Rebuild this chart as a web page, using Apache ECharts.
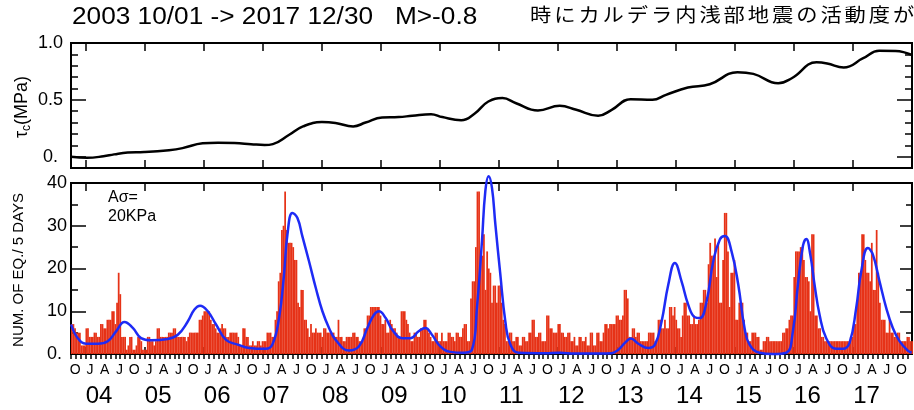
<!DOCTYPE html>
<html><head><meta charset="utf-8">
<script src="https://cdn.jsdelivr.net/npm/echarts@6/dist/echarts.min.js"></script>
<style>html,body{margin:0;padding:0;background:#fff}#c{width:914px;height:410px}</style>
</head><body><div id="c"></div>
<script>
const titleText = '2003 10/01 -> 2017 12/30   M>-0.8';
const noteText = '時にカルデラ内浅部地震の活動度が';
const amplitudeText = 'Aσ=\n20KPa';
const startYear = 2003.75, endYear = 2017.997;
const binDays = 10;

// top panel: tau_c (MPa)
const tauYears = [2003.75,2004.02,2004.30,2004.48,2004.71,2004.99,2005.41,2005.64,2005.98,2006.24,2006.52,2006.80,2007.03,2007.17,2007.44,2007.68,2008.00,2008.23,2008.53,2008.74,2009.02,2009.30,2009.53,2009.85,2010.04,2010.36,2010.59,2010.82,2011.06,2011.29,2011.66,2012.03,2012.31,2012.68,2012.91,2013.23,2013.60,2013.83,2014.20,2014.57,2015.04,2015.31,2015.73,2015.96,2016.38,2016.56,2016.84,2017.17,2017.44,2017.72,2017.997];
const tauValues = [0.0,-0.01,0.003,0.02,0.036,0.04,0.057,0.075,0.117,0.123,0.12,0.11,0.102,0.11,0.19,0.266,0.304,0.296,0.266,0.30,0.345,0.348,0.36,0.374,0.348,0.32,0.38,0.485,0.515,0.47,0.406,0.447,0.412,0.36,0.412,0.506,0.50,0.544,0.608,0.637,0.743,0.728,0.646,0.69,0.83,0.82,0.785,0.866,0.932,0.93,0.895];

// bottom panel: expected rate (blue)
const rateYears = [2003.752,2003.865,2004.006,2004.204,2004.373,2004.514,2004.656,2004.797,2004.937,2005.106,2005.389,2005.559,2005.728,2005.841,2005.936,2006.067,2006.207,2006.377,2006.575,2006.766,2007.049,2007.162,2007.274,2007.359,2007.416,2007.501,2007.586,2007.670,2007.782,2007.896,2008.009,2008.121,2008.234,2008.460,2008.629,2008.771,2008.883,2008.968,2009.081,2009.194,2009.364,2009.499,2009.640,2009.753,2009.865,2010.007,2010.177,2010.402,2010.542,2010.627,2010.712,2010.769,2010.825,2010.881,2010.939,2011.023,2011.108,2011.193,2011.333,2011.774,2012.028,2012.282,2012.705,2012.908,2013.022,2013.133,2013.235,2013.360,2013.530,2013.642,2013.755,2013.868,2013.980,2014.093,2014.207,2014.319,2014.403,2014.517,2014.630,2014.742,2014.827,2014.940,2015.054,2015.160,2015.245,2015.414,2015.640,2015.867,2015.979,2016.064,2016.148,2016.206,2016.273,2016.346,2016.431,2016.544,2016.713,2016.825,2016.939,2017.052,2017.137,2017.249,2017.333,2017.447,2017.560,2017.672,2017.786,2017.926,2017.99];
const rateValues = [6.9,3.7,2.4,2.4,3.0,5.3,7.5,6.1,3.7,3.2,3.5,4.5,7.6,10.4,11.3,10.0,6.9,3.3,2.2,1.4,1.2,2.2,8.4,18.6,27.9,33.0,31.8,27.5,21.7,15.5,10.0,6.1,3.3,0.8,1.8,6.1,9.2,10.0,8.4,5.6,3.7,3.7,5.3,6.1,4.5,1.8,0.5,0.3,1.0,10.8,26.4,38.1,41.6,38.9,30.3,18.6,7.6,2.2,0.3,0.2,0.3,0.1,0.1,0.2,1.0,2.6,3.6,2.4,1.4,2.2,7.6,16.2,21.3,17.0,11.5,8.6,8.4,12.3,21.7,26.8,27.6,24.0,16.2,6.1,2.2,0.3,0.0,0.3,5.3,16.2,25.2,26.9,23.3,16.2,9.2,3.7,1.2,1.2,2.6,10.8,19.3,24.8,23.3,17.0,10.8,6.1,3.0,0.8,0.3];

// bottom panel: observed counts (red bars), one value per 10-day step from 2003-10-01
const barValues = [
7,7,6,5,5,5,2,2,2,6, 6,4,4,4,5,5,4,4,7,7, 6,6,8,8,8,10,10,7,12,19, 14,4,4,4,1,2,4,4,1,1,
2,4,4,3,1,1,1,4,4,3, 3,2,3,6,6,4,4,4,4,4, 5,5,5,6,6,4,4,4,4,4, 4,3,4,5,5,5,5,5,5,8,
8,9,10,10,10,10,8,7,7,6, 5,5,6,7,6,6,4,4,5,5, 5,5,5,
4,2,2,6,6,4,4,2,2,3, 2,2,3,3,2,3,3,3,5,5, 5,4,4,8,10,17,19,29,30,38, 29,26,26,26,25,22,22,12,11,15,
15,8,8,6,4,7,5,5,6,5, 5,5,4,6,6,5,5,5,5,5, 4,4,8,4,4,3,3,4,4,4, 4,5,5,4,4,3,3,3,6,6,
9,9,11,11,11,11,11,11,9,7, 7,8,5,5,8,7,6,6,5,4, 4,10,10,10,
8,7,5,3,3,5,5,4,4,6, 6,8,8,6,5,4,3,3,5,5, 3,3,5,3,3,3,5,5,4,4, 3,5,5,4,4,6,7,7,3,3,
13,17,17,25,38,38,23,23,28,15, 24,20,19,12,16,16,12,16,16,12, 8,7,3,3,5,5,3,3,4,4, 2,2,4,4,3,3,5,5,8,8,
4,4,5,5,3,3,3,9,9,6, 6,5,5,5,7,7,5,5,4,4, 5,5,3,3,
4,2,2,4,4,3,3,4,2,2, 5,5,2,2,5,5,3,3,5,7, 7,6,7,7,7,7,9,9,8,8, 9,15,15,13,4,4,6,6,4,5,
5,3,3,3,3,3,5,5,5,5, 3,3,8,8,6,6,8,6,6,11, 11,9,11,8,6,6,4,9,12,12, 9,9,7,7,9,7,7,8,12,12,
15,15,12,21,26,23,23,27,18,26, 12,12,22,33,33,24,11,19,19,22, 8,8,12,12,
12,8,5,5,3,3,5,5,5,4, 4,1,1,3,3,4,4,3,3,3, 3,3,3,3,3,5,5,6,6,8, 9,9,18,24,24,24,25,25,22,18,
18,17,10,28,28,9,9,6,6,4, 4,3,3,3,3,3,3,3,3,3, 3,3,3,3,3,3,3,4,4,7, 7,12,19,19,28,28,22,19,19,17,
26,15,15,29,19,12,8,8,8,5, 5,8,5,5,4,4,5,5,3,3, 3,3,4,4,3,3
];

const tauLabelValues = [0, 0.5, 1.0];
const tauMinorValues = [-0.1, 0.1, 0.2, 0.3, 0.4, 0.6, 0.7, 0.8, 0.9];
const countLabelValues = [0, 10, 20, 30, 40];
const countMinorValues = [5, 15, 25, 35];
const yearLabels = ['04','05','06','07','08','09','10','11','12','13','14','15','16','17'];
const monthLetters = ['J','A','J','O'];

const yearTicks = yearLabels.map(s => 2000 + parseInt(s, 10));
const monthTicks = [];
for (let y = 2003; y <= 2017; y++) for (let m = 0; m < 12; m++) {
  const t = y + m / 12;
  if (t >= startYear - 1e-6 && t <= endYear) monthTicks.push(t);
}
const letterShift = 0.07;
const quarterLabelPos = [];
for (let y = 2003; y <= 2017; y++) for (let q = 0; q < 4; q++) {
  const t = y + q * 0.25;
  if (t >= startYear - 1e-6 && t <= endYear) quarterLabelPos.push(t + letterShift);
}
const barData = barValues.map((v, i) => [startYear + (i + 0.5) * binDays / 365.25, v]);
const tauData = tauYears.map((t, i) => [t, tauValues[i]]);
const rateData = rateYears.map((t, i) => [t, rateValues[i]]);

const FONT = '"Liberation Sans", Arial, sans-serif';
const tickStyle = {color: '#000', width: 1.5};

function xAx(grid, pos, tickVals, inside, len, label) {
  return {
    type: 'value', gridIndex: grid, position: pos, min: startYear, max: endYear,
    axisLine: {show: false, onZero: false}, splitLine: {show: false},
    axisTick: {show: true, customValues: tickVals, inside: inside, length: len, lineStyle: tickStyle},
    axisLabel: label || {show: false}
  };
}
function yAx(grid, pos, min, max, tickVals, len, label) {
  return {
    type: 'value', gridIndex: grid, position: pos, min: min, max: max, offset: 0,
    axisLine: {show: false, onZero: false}, splitLine: {show: false},
    axisTick: {show: true, customValues: tickVals, inside: true, length: len, lineStyle: tickStyle},
    axisLabel: label || {show: false}
  };
}

const graphics = [
  {type: 'text', x: 72, y: 18, scaleX: 1.14, style: {text: titleText, font: '23px ' + FONT, fill: '#000', verticalAlign: 'middle'}},
  {type: 'text', x: 108, y: 188, style: {text: amplitudeText, font: '16px ' + FONT, lineHeight: 19, fill: '#000', verticalAlign: 'top'}},
  {type: 'text', x: 22, y: 107, rotation: Math.PI / 2,
   style: {text: '{a|τ}{b|c}{a|(MPa)}', align: 'center', verticalAlign: 'middle',
     rich: {a: {font: '18px ' + FONT, fill: '#000', lineHeight: 22}, b: {font: '12px ' + FONT, fill: '#000', verticalAlign: 'bottom', lineHeight: 14}}}},
  {type: 'text', x: 19, y: 270, rotation: Math.PI / 2,
   style: {text: 'NUM. OF EQ./ 5 DAYS', font: '15px ' + FONT, fill: '#000', align: 'center', verticalAlign: 'middle'}}
];
Array.from(noteText).forEach((ch, k) => {
  graphics.push({type: 'text', x: 530 + k * 24.2, y: 15, scaleX: 1.12,
    style: {text: ch, font: '19px "Noto Sans CJK JP"', fill: '#000', verticalAlign: 'middle'}});
});

const chart = echarts.init(document.getElementById('c'), null, {renderer: 'canvas'});
chart.setOption({
  animation: false,
  backgroundColor: '#fff',
  grid: [
    {left: 71, top: 43, width: 841, height: 125, show: true, borderColor: '#000', borderWidth: 2, backgroundColor: 'transparent'},
    {left: 71, top: 183, width: 841, height: 171, show: true, borderColor: '#000', borderWidth: 2, backgroundColor: 'transparent'}
  ],
  xAxis: [
    xAx(0, 'bottom', yearTicks, true, 8),
    xAx(0, 'top', yearTicks, true, 8),
    xAx(1, 'bottom', monthTicks, false, 5, {
      customValues: quarterLabelPos, margin: 9, fontSize: 14, fontFamily: FONT, color: '#000',
      formatter: v => { const b = v - letterShift; const f = b - Math.floor(b + 1e-6); return monthLetters[Math.round(f * 4) % 4]; }
    }),
    xAx(1, 'bottom', yearTicks, true, 7, {
      customValues: yearTicks, margin: 30, fontSize: 24, fontFamily: FONT, color: '#000', align: 'left',
      formatter: v => yearLabels[yearTicks.indexOf(Math.round(v))]
    }),
    xAx(1, 'top', yearTicks, true, 8)
  ],
  yAxis: [
    yAx(0, 'left', -0.1, 1.0, tauLabelValues, 15, {
      customValues: tauLabelValues, margin: 8, fontSize: 18, fontFamily: FONT, color: '#000',
      formatter: v => v === 0 ? '{z|0.}' : v.toFixed(1),
      rich: {z: {fontSize: 18, fontFamily: FONT, color: '#000', padding: [0, 5, 0, 0]}}
    }),
    yAx(0, 'left', -0.1, 1.0, tauMinorValues, 7),
    yAx(0, 'right', -0.1, 1.0, tauLabelValues, 15),
    yAx(0, 'right', -0.1, 1.0, tauMinorValues, 7),
    yAx(1, 'left', 0, 40, [10, 20, 30], 15, {
      customValues: countLabelValues, margin: 24, fontSize: 18, fontFamily: FONT, color: '#000', align: 'left',
      formatter: v => v === 0 ? '0.' : String(v)
    }),
    yAx(1, 'left', 0, 40, countMinorValues, 7),
    yAx(1, 'right', 0, 40, [10, 20, 30], 12),
    yAx(1, 'right', 0, 40, countMinorValues, 6)
  ],
  series: [
    {type: 'line', xAxisIndex: 0, yAxisIndex: 0, data: tauData, smooth: 0.45, showSymbol: false,
     lineStyle: {color: '#000', width: 2.5}, z: 5},
    {type: 'bar', xAxisIndex: 2, yAxisIndex: 4, data: barData, barWidth: 1.75,
     itemStyle: {color: '#e63217'}, z: 2},
    {type: 'line', xAxisIndex: 2, yAxisIndex: 4, data: rateData, smooth: 0.45, showSymbol: false,
     clip: false, lineStyle: {color: '#1e2bf5', width: 2.5}, z: 4}
  ],
  graphic: graphics
});
</script></body></html>
